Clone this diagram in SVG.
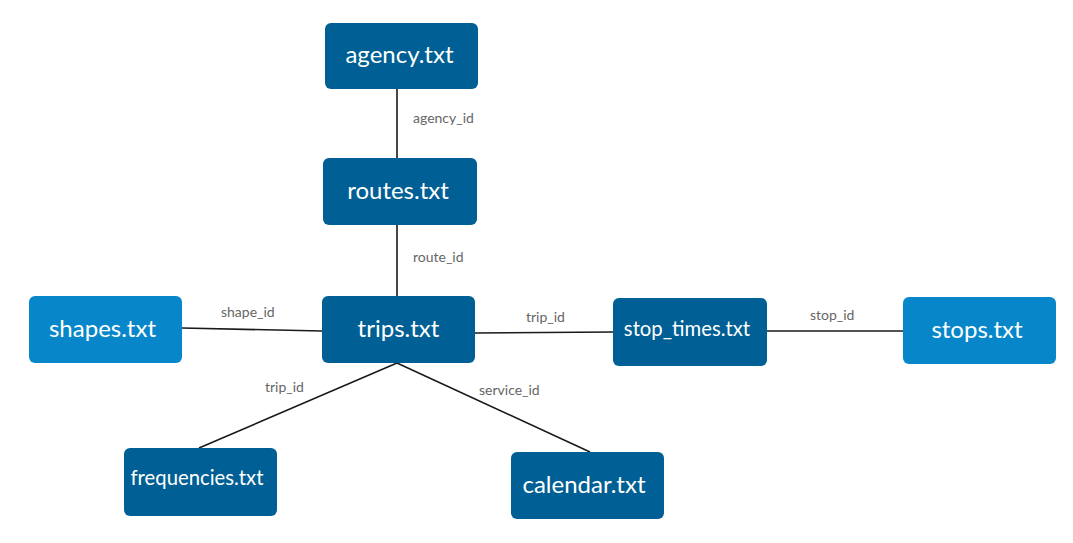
<svg xmlns="http://www.w3.org/2000/svg" width="1073" height="543" viewBox="0 0 1073 543">
<style>
.dark{fill:#005f94}
.light{fill:#0787c9}
.nt{font-family:Lato,"Noto Sans",sans-serif;fill:#ffffff;text-anchor:middle;font-size:24px}
.ns{font-size:20.3px}
.el{font-family:Lato,"Noto Sans",sans-serif;fill:#666666;font-size:14px}
.cn line{stroke:#1a1a1a;stroke-width:1.6}
</style>
<rect width="1073" height="543" fill="#ffffff"/>
<g id="connectors" class="cn">
<line x1="397" y1="89" x2="397" y2="158"/>
<line x1="397" y1="225" x2="397" y2="296"/>
<line x1="182" y1="328" x2="322" y2="331"/>
<line x1="475" y1="333" x2="613" y2="332"/>
<line x1="767" y1="331" x2="903" y2="331"/>
<line x1="397" y1="363" x2="199" y2="448"/>
<line x1="397" y1="363" x2="590" y2="452"/>
<text class="el" x="413" y="123">agency_id</text>
<text class="el" x="413" y="262">route_id</text>
<text class="el" x="221" y="317">shape_id</text>
<text class="el" x="526" y="322">trip_id</text>
<text class="el" x="810" y="320">stop_id</text>
<text class="el" x="265" y="392">trip_id</text>
<text class="el" x="479" y="395">service_id</text>
</g>
<g id="agency"><rect class="dark" x="325" y="23" width="153" height="66" rx="6"/><text class="nt" x="399.5" y="63">agency.txt</text></g>
<g id="routes"><rect class="dark" x="323" y="158" width="154" height="67" rx="6"/><text class="nt" x="398" y="199">routes.txt</text></g>
<g id="trips"><rect class="dark" x="322" y="296" width="153" height="67" rx="6"/><text class="nt" x="398.5" y="337">trips.txt</text></g>
<g id="shapes"><rect class="light" x="29" y="296" width="153" height="67" rx="6"/><text class="nt" x="102.5" y="337">shapes.txt</text></g>
<g id="stop_times"><rect class="dark" x="613" y="298" width="154" height="68" rx="6"/><text class="nt ns" x="687" y="336">stop_times.txt</text></g>
<g id="stops"><rect class="light" x="903" y="297" width="153" height="67" rx="6"/><text class="nt" x="977" y="338">stops.txt</text></g>
<g id="frequencies"><rect class="dark" x="124" y="448" width="153" height="68" rx="6"/><text class="nt ns" x="197" y="485">frequencies.txt</text></g>
<g id="calendar"><rect class="dark" x="511" y="452" width="153" height="67" rx="6"/><text class="nt" x="584" y="493">calendar.txt</text></g>
</svg>
